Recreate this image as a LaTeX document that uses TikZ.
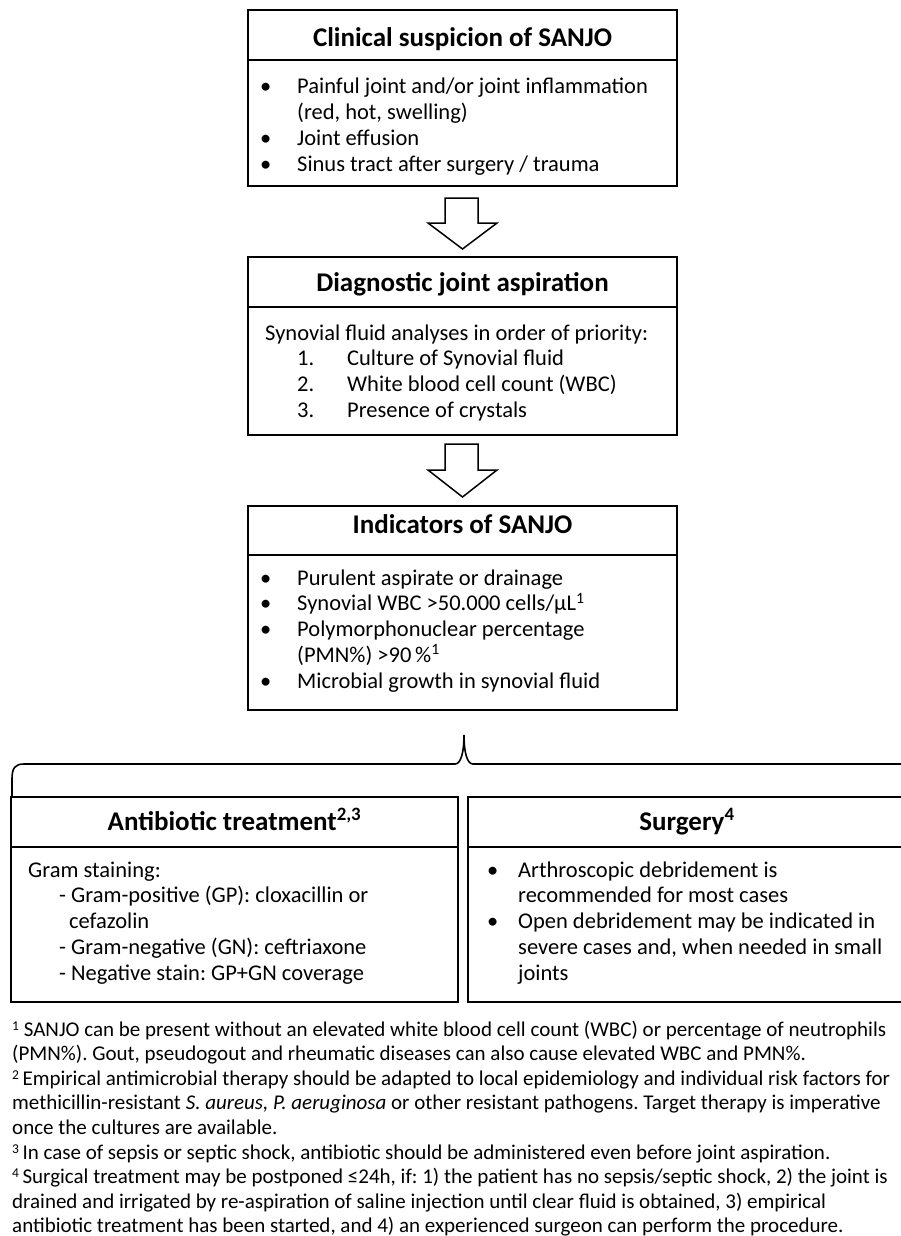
\documentclass[tikz,border=0pt]{standalone}
\usepackage{fontspec}
\setmainfont{Carlito}
\usetikzlibrary{calc}
\frenchspacing
\newcommand\fsup[1]{\raisebox{6pt}{\fontsize{13.5}{13.5}\selectfont #1}}
\begin{document}
\begin{tikzpicture}[x=1pt,y=-1pt,
  box/.style={draw=black, line width=2pt, rectangle, inner sep=0pt},
  hline/.style={draw=black, line width=2pt},
  ttl/.style={font=\fontsize{27}{32}\selectfont\bfseries, anchor=base, inner sep=0pt},
  body/.style={font=\fontsize{22.5}{25.8}\selectfont, anchor=base west, inner sep=0pt},
  fn/.style={font=\fontsize{21}{24.6}\selectfont, anchor=base west, inner sep=0pt},
  barrow/.style={draw=black, line width=1.5pt, fill=white, line join=miter},
  brace/.style={draw=black, line width=1.6pt}
]
\useasboundingbox (0,0) rectangle (901,1236);
\clip (0,0) rectangle (901,1236);
\fill[white] (0,0) rectangle (901,1236);

% ---- Box 1
\node[box, minimum width=429pt, minimum height=176pt] (b1) at (462.5,98) {};
\draw[hline] (b1.west |- 0,60) -- (b1.east |- 0,60);
\node[ttl] (t1) at (462.5,47) {Clinical suspicion of SANJO};
\node[body] (l1) at (260,94) {\begin{tabular}[t]{@{}p{37pt}@{}l@{}}
•& Painful joint and/or joint inflammation\\
 & (red, hot, swelling)\\
•& Joint effusion\\
•& Sinus tract after surgery / trauma
\end{tabular}};

% ---- Arrow 1
\draw[barrow] ($(b1.south)+(-17.5,11)$) -- ++(33,0) -- ++(0,25) -- ++(19,0)
  -- ($(b1.south)+(0,62)$) -- ($(b1.south)+(-34.5,36)$) -- ++(17,0) -- cycle;

% ---- Box 2
\node[box, minimum width=429pt, minimum height=178pt] (b2) at (462.5,346) {};
\draw[hline] (b2.west |- 0,307) -- (b2.east |- 0,307);
\node[ttl] (t2) at (462.5,291) {Diagnostic joint aspiration};
\node[body] (l2) at (265,340) {\begin{tabular}[t]{@{}p{32pt}@{}p{50pt}@{}l@{}}
\multicolumn{3}{@{}l@{}}{Synovial fluid analyses in order of priority:}\\
 & 1. & Culture of Synovial fluid\\
 & 2. & White blood cell count (WBC)\\
 & 3. & Presence of crystals
\end{tabular}};

% ---- Arrow 2
\draw[barrow] ($(b2.south)+(-17.5,8)$) -- ++(33,0) -- ++(0,26) -- ++(19,0)
  -- ($(b2.south)+(0,61)$) -- ($(b2.south)+(-34.5,34)$) -- ++(17,0) -- cycle;

% ---- Box 3
\node[box, minimum width=429pt, minimum height=204pt] (b3) at (462.5,608) {};
\draw[hline] (b3.west |- 0,555) -- (b3.east |- 0,555);
\node[ttl] (t3) at (462.5,533) {Indicators of SANJO};
\node[body] (l3) at (260,585) {\begin{tabular}[t]{@{}p{37pt}@{}l@{}}
•& Purulent aspirate or drainage\\
•& Synovial WBC >50.000 cells/µL\textsuperscript{1}\\
•& Polymorphonuclear percentage\\
 & (PMN\%) >90\,\%\textsuperscript{1}\\
•& Microbial growth in synovial fluid
\end{tabular}};

% ---- Brace
\coordinate (bl) at (12,797);
\coordinate (tip) at (464,735);
\coordinate (br) at (920,764);
\draw[brace] (bl) -- (12,779) .. controls (12,768) and (15,764) .. (24,764)
  -- (455,764) .. controls (461,764) and (464,752) .. (tip)
  .. controls (464,752) and (467,764) .. (473,764) -- (br);

% ---- Left box
\node[box, minimum width=447pt, minimum height=205pt] (b4) at (234.5,899.5) {};
\draw[hline] (b4.west |- 0,847) -- (b4.east |- 0,847);
\node[ttl] (t4) at (234.5,830) {Antibiotic treatment\textsuperscript{2,3}};
\node[body] (l4) at (28,877) {\begin{tabular}[t]{@{}p{31pt}@{}l@{}}
\multicolumn{2}{@{}l@{}}{Gram staining:}\\
 & - Gram-positive (GP): cloxacillin or\\
 & \hspace{10pt}cefazolin\\
 & - Gram-negative (GN): ceftriaxone\\
 & - Negative stain: GP+GN coverage
\end{tabular}};

% ---- Right box
\node[box, minimum width=438pt, minimum height=205pt] (b5) at (687,899.5) {};
\draw[hline] (b5.west |- 0,847) -- (b5.east |- 0,847);
\node[ttl] (t5) at (687,830) {Surgery\textsuperscript{4}};
\node[body] (l5) at (487,877) {\begin{tabular}[t]{@{}p{31pt}@{}l@{}}
•& Arthroscopic debridement is\\
 & recommended for most cases\\
•& Open debridement may be indicated in\\
 & severe cases and, when needed in small\\
 & joints
\end{tabular}};

% ---- Footnotes
\node[fn] (fn) at (12,1036) {\begin{tabular}[t]{@{}l@{}}
\fsup{1} SANJO can be present without an elevated white blood cell count (WBC) or percentage of neutrophils\\
(PMN\%). Gout, pseudogout and rheumatic diseases can also cause elevated WBC and PMN\%.\\
\fsup{2}\,Empirical antimicrobial therapy should be adapted to local epidemiology and individual risk factors for\\
methicillin-resistant \textit{S. aureus, P. aeruginosa} or other resistant pathogens. Target therapy is imperative\\
once the cultures are available.\\
\fsup{3}\,In case of sepsis or septic shock, antibiotic should be administered even before joint aspiration.\\
\fsup{4}\,Surgical treatment may be postponed ≤24h, if: 1) the patient has no sepsis/septic shock, 2) the joint is\\
drained and irrigated by re-aspiration of saline injection until clear fluid is obtained, 3) empirical\\
antibiotic treatment has been started, and 4) an experienced surgeon can perform the procedure.
\end{tabular}};
\end{tikzpicture}
\end{document}
